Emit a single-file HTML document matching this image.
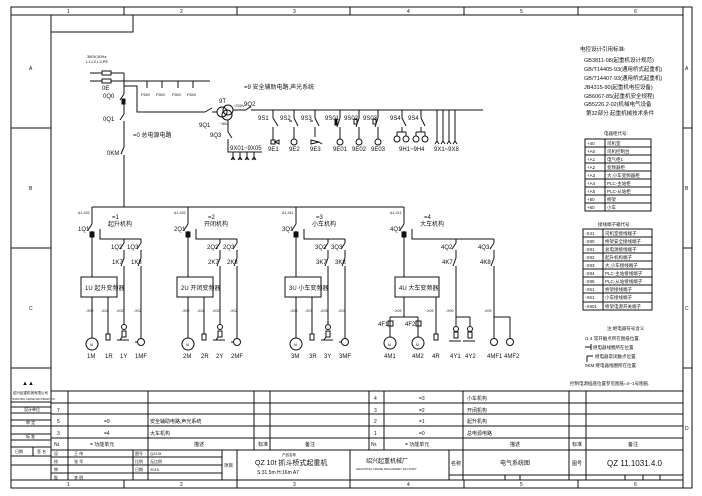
<!DOCTYPE html>
<html><head><meta charset="utf-8"><style>
html,body{margin:0;padding:0;background:#fff;}
svg{display:block;}
text{font-family:"Liberation Sans","Noto Sans CJK SC",sans-serif;fill:#111;}
.c{font-family:"Liberation Sans","Noto Sans CJK SC",sans-serif;}
</style></head><body>
<svg width="702" height="496" viewBox="0 0 702 496" xmlns="http://www.w3.org/2000/svg">
<rect width="702" height="496" fill="#fff"/>
<g fill="none" stroke="#111" stroke-width="1">
<!-- frame -->
<rect x="11" y="7" width="681" height="481"/>
<line x1="11" y1="15" x2="683" y2="15"/>
<line x1="51" y1="15" x2="51" y2="480"/>
<line x1="683" y1="7" x2="683" y2="488"/>
<line x1="11" y1="480" x2="683" y2="480"/>
<line x1="124" y1="7" x2="124" y2="15"/><line x1="237" y1="7" x2="237" y2="15"/><line x1="350" y1="7" x2="350" y2="15"/><line x1="464" y1="7" x2="464" y2="15"/><line x1="578" y1="7" x2="578" y2="15"/>
<line x1="124" y1="480" x2="124" y2="488"/><line x1="237" y1="480" x2="237" y2="488"/><line x1="350" y1="480" x2="350" y2="488"/><line x1="464" y1="480" x2="464" y2="488"/><line x1="578" y1="480" x2="578" y2="488"/>
<line x1="11" y1="128" x2="51" y2="128"/><line x1="11" y1="248" x2="51" y2="248"/><line x1="11" y1="368" x2="51" y2="368"/>
<line x1="683" y1="128" x2="692" y2="128"/><line x1="683" y1="248" x2="692" y2="248"/><line x1="683" y1="368" x2="692" y2="368"/>
<rect x="51" y="15" width="82" height="17"/>
<!-- stamp column -->
<line x1="11" y1="402" x2="51" y2="402"/><line x1="11" y1="407" x2="51" y2="407"/><line x1="11" y1="413" x2="51" y2="413"/><line x1="11" y1="420" x2="51" y2="420"/><line x1="11" y1="426" x2="51" y2="426"/><line x1="11" y1="434" x2="51" y2="434"/><line x1="11" y1="440" x2="51" y2="440"/><line x1="11" y1="447" x2="51" y2="447"/><line x1="11" y1="456" x2="51" y2="456"/><line x1="11" y1="465" x2="51" y2="465"/>
<line x1="33" y1="447" x2="33" y2="456"/>
<!-- bottom table -->
<line x1="51" y1="391" x2="683" y2="391"/>
<line x1="51" y1="403" x2="683" y2="403"/><line x1="51" y1="414" x2="683" y2="414"/><line x1="51" y1="426" x2="683" y2="426"/><line x1="51" y1="438" x2="683" y2="438"/><line x1="51" y1="450" x2="683" y2="450"/>
<line x1="68" y1="391" x2="68" y2="450"/><line x1="148" y1="391" x2="148" y2="450"/><line x1="254" y1="391" x2="254" y2="450"/><line x1="270" y1="391" x2="270" y2="450"/>
<line x1="369" y1="391" x2="369" y2="450"/><line x1="384" y1="391" x2="384" y2="450"/><line x1="463" y1="391" x2="463" y2="450"/><line x1="569" y1="391" x2="569" y2="450"/><line x1="586" y1="391" x2="586" y2="450"/>
<!-- title block -->
<line x1="51" y1="457" x2="222" y2="457"/><line x1="51" y1="465" x2="222" y2="465"/><line x1="51" y1="473" x2="222" y2="473"/>
<line x1="68" y1="450" x2="68" y2="480"/><line x1="133" y1="450" x2="133" y2="480"/><line x1="148" y1="450" x2="148" y2="480"/><line x1="222" y1="450" x2="222" y2="480"/><line x1="237" y1="450" x2="237" y2="480"/><line x1="350" y1="450" x2="350" y2="480"/>
<line x1="449" y1="450" x2="449" y2="480"/><line x1="463" y1="450" x2="463" y2="480"/><line x1="569" y1="450" x2="569" y2="480"/><line x1="586" y1="450" x2="586" y2="480"/>
<line x1="449" y1="475" x2="683" y2="475"/>
<line x1="505" y1="475" x2="505" y2="480"/><line x1="520" y1="475" x2="520" y2="480"/><line x1="625" y1="475" x2="625" y2="480"/><line x1="643" y1="475" x2="643" y2="480"/><line x1="660" y1="475" x2="660" y2="480"/>

<!-- power input -->
<line x1="90" y1="73" x2="124" y2="73"/><line x1="90" y1="81" x2="210" y2="81"/>
<rect x="102" y="71" width="9" height="4" fill="#fff"/><rect x="102" y="79" width="9" height="4" fill="#fff"/>
<path d="M124 73V94 M124 94L120 100 M124 101V114 M124 114L120 120 M124 121V147 M124 147L121 154 M124 155V207"/>
<rect x="122" y="99" width="3" height="5" fill="#111"/>
<path d="M124 86H137V112H205 M205 112L212 108 M212 112H217"/>
<path d="M147 81V88 M162 81V88 M178 81V88 M193 81V88"/>
<circle cx="222" cy="112" r="5"/><circle cx="228" cy="110" r="5"/><circle cx="227" cy="115" r="5"/>
<path d="M233 110H246 M246 110L251 106 M251 110H483"/>
<path d="M228 120V132 M228 132L232 138 M228 139V152H262 M233 152V160 M240 152V160 M247 152V160 M254 152V160"/>
<path d="M231 160L233 157L235 160 M238 160L240 157L242 160 M245 160L247 157L249 160 M252 160L254 157L256 160"/>
<!-- 9S branches -->
<path d="M273 110V118 M273 118L278 126 M273 127V140 M294 110V118 M294 118L298 126 M294 127V139 M315 110V118 M315 118L319 126 M315 127V137 M340 110V118 M340 127V139 M359 110V118 M359 127V139 M378 110V118 M378 127V139"/>
<path d="M340 118L337 127 M359 118L356 127 M378 118L375 127 M289 121H292 M310 121H313"/>
<rect x="335" y="119" width="2" height="6" fill="#111"/><rect x="354" y="119" width="3" height="5"/><rect x="373" y="119" width="3" height="5"/>
<rect x="271" y="140" width="4" height="4"/><path d="M275 142L279 140V144Z"/>
<circle cx="294" cy="142" r="3"/><circle cx="340" cy="142" r="3"/><circle cx="359" cy="142" r="3"/><circle cx="378" cy="142" r="3"/>
<path d="M311 140L319 142L311 144Z M319 142L322 144"/>
<path d="M402 110V118 M402 118L406 126 M402 127V132 M397 132H406 M397 132V136 M406 132V136 M421 110V118 M421 118L425 126 M421 127V132 M416 132H425 M416 132V136 M425 132V136"/>
<circle cx="397" cy="139" r="3"/><circle cx="406" cy="139" r="3"/><circle cx="416" cy="139" r="3"/><circle cx="425" cy="139" r="3"/>
<path d="M437 110V142 M443 110V142 M449 110V142 M455 110V142 M435 144L437 141L439 144 M441 144L443 141L445 144 M447 144L449 141L451 144 M453 144L455 141L457 144"/>

<!-- main bus -->
<line x1="92" y1="207" x2="404" y2="207"/>
</g>

<!-- branch template -->
<defs>
<g id="br" fill="none" stroke="#111" stroke-width="1">
<path d="M0 207V224 M0 224L-4 230 M0 231V277 M8 229V239H49 M32 239V243 M32 243L28 249 M32 250V258 M32 258L29 266 M32 266V324 M49 239V243 M49 243L45 249 M49 250V258 M49 258L46 266 M49 266V338 M0 297V338 M16 297V334"/>
<rect x="-2" y="232" width="4" height="5" fill="#111"/>
<rect x="-11" y="277" width="36" height="20"/>
<rect x="14" y="334" width="4" height="6"/>
<circle cx="0" cy="344" r="6"/>
<circle cx="32" cy="327" r="2.5"/><rect x="30" y="331" width="4" height="6"/><path d="M25 340H37 M28 340L30 337"/>
<circle cx="49" cy="342" r="3.5"/><path d="M43 342H45.5"/>
</g>
</defs>
<use href="#br" x="92"/><use href="#br" x="188"/><use href="#br" x="296"/>

<g fill="none" stroke="#111" stroke-width="1">
<!-- branch 4 -->
<path d="M404 207V224 M404 224L400 230 M404 231V277 M412 229V239H494 M456 239V243 M456 243L452 249 M456 250V258 M456 258L453 266 M456 266V317 M494 239V243 M494 243L490 249 M494 250V258 M494 258L491 266 M494 266V317"/>
<rect x="402" y="232" width="4" height="5" fill="#111"/>
<rect x="395" y="277" width="44" height="20"/>
<path d="M404 297V317 M390 317H418 M390 317V337 M418 317V337 M436 297V334 M456 317H470 M456 317V326 M470 317V326 M494 317H510 M494 317V339 M510 317V339"/>
<rect x="388" y="321" width="5" height="5"/><rect x="416" y="321" width="5" height="5"/>
<circle cx="390" cy="343" r="6"/><circle cx="418" cy="343" r="6"/>
<rect x="434" y="334" width="4" height="6"/>
<circle cx="456" cy="329" r="2.5"/><rect x="454" y="332" width="4" height="6"/><path d="M449 341H461"/>
<circle cx="470" cy="329" r="2.5"/><rect x="468" y="332" width="4" height="6"/><path d="M463 341H475"/>
<circle cx="494" cy="342" r="3.5"/><circle cx="510" cy="342" r="3.5"/>
<!-- right tables -->
<rect x="585" y="139" width="66" height="72"/>
<line x1="605" y1="139" x2="605" y2="211"/>
<path d="M585 147H651 M585 155H651 M585 163H651 M585 171H651 M585 179H651 M585 187H651 M585 195H651 M585 203H651"/>
<rect x="583" y="229" width="69" height="81"/>
<line x1="603" y1="229" x2="603" y2="310"/>
<path d="M583 237H652 M583 245H652 M583 253H652 M583 261H652 M583 269H652 M583 277H652 M583 285H652 M583 293H652 M583 302H652"/>
<path d="M585 347H591 M591 344V350 M587 356V362 M587 356H593"/>
</g>

<g font-size="5">
<text x="67" y="13">1</text><text x="180" y="13">2</text><text x="293" y="13">3</text><text x="407" y="13">4</text><text x="520" y="13">5</text><text x="634" y="13">6</text>
<text x="67" y="486">1</text><text x="180" y="486">2</text><text x="293" y="486">3</text><text x="407" y="486">4</text><text x="520" y="486">5</text><text x="634" y="486">6</text>
<text x="29" y="70">A</text><text x="29" y="190">B</text><text x="29" y="310">C</text>
<text x="685" y="70">A</text><text x="685" y="190">B</text><text x="685" y="310">C</text><text x="685" y="430">D</text>
</g>

<g font-size="4">
<text x="87" y="58">380V,50Hz,</text><text x="86" y="63">L1,L2,L3,PE</text>
<text x="141" y="96">FDM</text><text x="156" y="96">FDM</text><text x="172" y="96">FDM</text><text x="187" y="96">FDM</text>
<text x="233" y="107">~220V</text><text x="219" y="125">~36V</text>
</g>
<g font-size="6">
<text x="102" y="90">0E</text>
<text x="103" y="98">0Q0</text><text x="103" y="121">0Q1</text><text x="107" y="155">0KM</text>
<text x="133" y="137">=0 总电源电路</text>
<text x="244" y="89">=9 安全辅助电路,声光系统</text>
<text x="219" y="103">9T</text><text x="244" y="106">9Q2</text><text x="199" y="127">9Q1</text><text x="210" y="137">9Q3</text>
<text x="230" y="150">9X01~9X05</text>
<text x="258" y="120">9S1</text><text x="280" y="120">9S2</text><text x="301" y="120">9S3</text><text x="325" y="120">9S01</text><text x="344" y="120">9S02</text><text x="363" y="120">9S03</text><text x="390" y="120">9S4</text><text x="408" y="120">9S4</text>
<text x="268" y="151">9E1</text><text x="289" y="151">9E2</text><text x="310" y="151">9E3</text><text x="333" y="151">9E01</text><text x="352" y="151">9E02</text><text x="371" y="151">9E03</text><text x="399" y="151">9H1~9H4</text><text x="434" y="151">9X1~9X8</text>
</g>

<!-- branch labels -->
<g font-size="3.5">
<text x="78" y="214">A1-X02</text><text x="174" y="214">A1-X02</text><text x="282" y="214">A1-X11</text><text x="390" y="214">A1-X11</text>
<text x="86" y="312">-X02</text><text x="101" y="312">-X02</text><text x="116" y="312">-X02</text><text x="134" y="312">-X02</text>
<text x="182" y="312">-X02</text><text x="197" y="312">-X02</text><text x="212" y="312">-X02</text><text x="230" y="312">-X02</text>
<text x="290" y="312">-X03</text><text x="305" y="312">-X03</text><text x="320" y="312">-X03</text><text x="338" y="312">-X03</text>
<text x="394" y="312">-X09</text><text x="426" y="312">-X09</text><text x="446" y="312">-X09</text><text x="484" y="312">-X09</text>
</g>
<g font-size="6">
<text x="112" y="219">=1</text><text x="108" y="226">起升机构</text>
<text x="208" y="219">=2</text><text x="204" y="226">开闭机构</text>
<text x="316" y="219">=3</text><text x="312" y="226">小车机构</text>
<text x="424" y="219">=4</text><text x="420" y="226">大车机构</text>
<text x="78" y="231">1Q1</text><text x="174" y="231">2Q1</text><text x="282" y="231">3Q1</text><text x="390" y="231">4Q1</text>
<text x="111" y="249">1Q2</text><text x="127" y="249">1Q3</text><text x="207" y="249">2Q2</text><text x="223" y="249">2Q3</text><text x="315" y="249">3Q2</text><text x="331" y="249">3Q3</text><text x="441" y="249">4Q2</text><text x="478" y="249">4Q3</text>
<text x="112" y="264">1K7</text><text x="131" y="264">1K8</text><text x="208" y="264">2K7</text><text x="227" y="264">2K8</text><text x="316" y="264">3K7</text><text x="335" y="264">3K8</text><text x="442" y="264">4K7</text><text x="480" y="264">4K8</text>
<text x="85" y="290">1U 起升变频器</text><text x="181" y="290">2U 开闭变频器</text><text x="289" y="290">3U 小车变频器</text><text x="399" y="290">4U 大车变频器</text>
<text x="87" y="358">1M</text><text x="105" y="358">1R</text><text x="120" y="358">1Y</text><text x="135" y="358">1MF</text>
<text x="183" y="358">2M</text><text x="201" y="358">2R</text><text x="216" y="358">2Y</text><text x="231" y="358">2MF</text>
<text x="291" y="358">3M</text><text x="309" y="358">3R</text><text x="324" y="358">3Y</text><text x="339" y="358">3MF</text>
<text x="378" y="326">4F1</text><text x="405" y="326">4F2</text>
<text x="384" y="358">4M1</text><text x="412" y="358">4M2</text><text x="432" y="358">4R</text><text x="450" y="358">4Y1</text><text x="465" y="358">4Y2</text><text x="487" y="358">4MF1</text><text x="504" y="358">4MF2</text>
</g>
<g font-size="3.5"><text x="90" y="346">M</text><text x="186" y="346">M</text><text x="294" y="346">M</text><text x="388" y="346">M</text><text x="416" y="346">M</text></g>

<!-- right text -->
<g font-size="5.5">
<text x="580" y="51">电控设计引用标准:</text>
<text x="584" y="62">GB3811-08(起重机设计规范)</text>
<text x="584" y="71">GB/T14405-93(通用桥式起重机)</text>
<text x="584" y="80">GB/T14407-93(通用桥式起重机)</text>
<text x="584" y="89">JB4315-90(起重机电控设备)</text>
<text x="584" y="98">GB6067-85(起重机安全规程)</text>
<text x="584" y="106">GB5226.2-02(机械电气设备</text>
<text x="586" y="115">第32部分 起重机械技术条件</text>
</g>
<g font-size="4.5">
<text x="604" y="135">电器柜代号:</text>
<text x="587" y="145">+40</text><text x="607" y="145">司机室</text>
<text x="587" y="153">+A0</text><text x="607" y="153">司机控制台</text>
<text x="587" y="161">+A1</text><text x="607" y="161">电气柜1</text>
<text x="587" y="169">+A2</text><text x="607" y="169">变频器柜</text>
<text x="587" y="177">+A3</text><text x="607" y="177">大,小车变频器柜</text>
<text x="587" y="185">+A4</text><text x="607" y="185">PLC-主站柜</text>
<text x="587" y="193">+A5</text><text x="607" y="193">PLC-从站柜</text>
<text x="587" y="201">+50</text><text x="607" y="201">桥架</text>
<text x="587" y="209">+60</text><text x="607" y="209">小车</text>
<text x="598" y="226">接线端子箱代号:</text>
<text x="585" y="235">-X41</text><text x="605" y="235">司机室接线端子</text>
<text x="585" y="243">-X90</text><text x="605" y="243">桥架安全接线端子</text>
<text x="585" y="251">-X91</text><text x="605" y="251">总电源接线端子</text>
<text x="585" y="259">-X92</text><text x="605" y="259">起升机构端子</text>
<text x="585" y="267">-X93</text><text x="605" y="267">大,小车接线端子</text>
<text x="585" y="275">-X94</text><text x="605" y="275">PLC-主站接线端子</text>
<text x="585" y="283">-X95</text><text x="605" y="283">PLC-从站接线端子</text>
<text x="585" y="291">-X51</text><text x="605" y="291">桥架接线端子</text>
<text x="585" y="299">-X61</text><text x="605" y="299">小车接线端子</text>
<text x="585" y="308">-X901</text><text x="605" y="308">桥架电源开关端子</text>
<text x="607" y="330">注:继电器符号含义</text>
<text x="585" y="340">/1.4 常开触点所在图纸位置.</text>
<text x="593" y="349">继电器线圈所在位置.</text>
<text x="595" y="358">继电器常闭触点位置.</text>
<text x="585" y="367">0KM 继电器线圈所在位置.</text>
<text x="570" y="385">控制电源插座位置参见图纸=4--1号图纸.</text>
</g>

<!-- bottom table text -->
<g font-size="5">
<text x="22" y="385" font-size="6">▲▲</text>
<text x="13" y="394" font-size="3.5">绍兴起重机械有限公司</text>
<text x="12" y="400" font-size="2.5">SHAOXING CRANE MACHINERY CO.</text>
<text x="24" y="411" font-size="4">设计单位</text>
<text x="26" y="424" font-size="4">审 定</text>
<text x="26" y="438" font-size="4">标 准</text>
<text x="15" y="453" font-size="4">日期</text><text x="37" y="453" font-size="4">签 名</text>
<text x="57" y="412">7</text><text x="57" y="423">5</text><text x="57" y="435">3</text><text x="54" y="446">Nr.</text>
<text x="104" y="423">=9</text><text x="104" y="435">=4</text><text x="90" y="446">= 功能单元</text>
<text x="150" y="423">安全辅助电路,声光系统</text><text x="150" y="435">大车机构</text><text x="194" y="446">描述</text>
<text x="258" y="446">标准</text><text x="305" y="446">备注</text>
<text x="374" y="400">4</text><text x="374" y="412">3</text><text x="374" y="423">2</text><text x="374" y="435">1</text><text x="371" y="446">Nr.</text>
<text x="419" y="400">=3</text><text x="419" y="412">=2</text><text x="419" y="423">=1</text><text x="419" y="435">=0</text><text x="405" y="446">= 功能单元</text>
<text x="467" y="400">小车机构</text><text x="467" y="412">开闭机构</text><text x="467" y="423">起升机构</text><text x="467" y="435">总电源电路</text><text x="510" y="446">描述</text>
<text x="572" y="446">标准</text><text x="628" y="446">备注</text>
<text x="54" y="455" font-size="4">设</text><text x="54" y="463" font-size="4">校</text><text x="54" y="471" font-size="4">审</text><text x="54" y="479" font-size="4">批</text>
<text x="74" y="455" font-size="4">王 伟</text><text x="74" y="463" font-size="4">张 华</text><text x="74" y="479" font-size="4">李 明</text>
<text x="135" y="455" font-size="4">图号</text><text x="135" y="463" font-size="4">比例</text><text x="135" y="471" font-size="4">日期</text>
<text x="150" y="455" font-size="4">QZ10t</text><text x="150" y="463" font-size="4">无比例</text><text x="150" y="471" font-size="4">2015.</text>
<text x="224" y="467" font-size="4.5">项目</text>
<text x="282" y="456" font-size="3.5">产品名称</text>
<text x="255" y="465" font-size="7">QZ 10t 抓斗桥式起重机</text>
<text x="257" y="474" font-size="5">S:31.5m H:16m A7</text>
<text x="366" y="463" font-size="6">绍兴起重机械厂</text>
<text x="356" y="470" font-size="3">SHAOXING CRANE MACHINERY FACTORY</text>
<text x="451" y="465" font-size="5">名称</text>
<text x="500" y="465" font-size="6">电气系统图</text>
<text x="572" y="465" font-size="5">图号</text>
<text x="607" y="466" font-size="8">QZ 11.1031.4.0</text>
</g>
</svg>
</body></html>
